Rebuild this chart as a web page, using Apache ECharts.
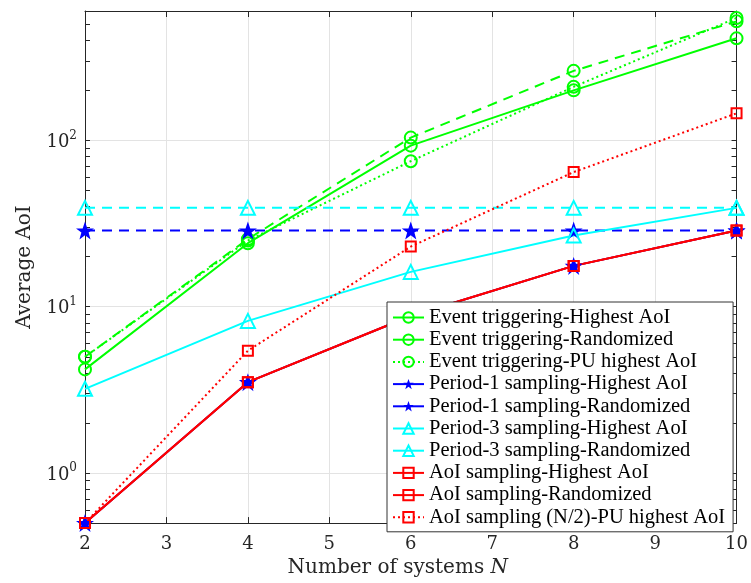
<!DOCTYPE html>
<html>
<head>
<meta charset="utf-8">
<script src="https://cdn.jsdelivr.net/npm/echarts@6.0.0/dist/echarts.min.js"></script>
<style>
  html, body { margin: 0; padding: 0; background: #fff; }
  #main { width: 751px; height: 583px; }
</style>
</head>
<body>
<div id="main"></div>
<script>
// number of systems N
var xs = [2, 4, 6, 8, 10];

// average AoI
var eventHighest = [4.2, 24.1, 93, 200, 411];
var eventRandom = [5.0, 25.5, 104, 262, 520];
var eventPU = [5.0, 25, 75, 210, 545];
var period1Highest = [0.5, 3.52, 8.8, 17.6, 28.7];
var period1Random = [28.7, 28.7, 28.7, 28.7, 28.7];
var period3Highest = [3.21, 8.22, 16.2, 26.8, 39.3];
var period3Random = [39.3, 39.3, 39.3, 39.3, 39.3];
var aoiHighest = [0.5, 3.52, 8.8, 17.6, 28.7];
var aoiRandom = [0.5, 3.52, 8.8, 17.6, 28.7];
var aoiPU = [0.5, 5.44, 23, 64.5, 145.5];

var yMin = 0.5, yMax = 600;
var yLabelValues = [1, 10, 100];
var yTickValues = [];
[0.1, 1, 10, 100].forEach(function (d) {
  for (var k = 1; k < 10; k++) {
    var v = +(d * k).toPrecision(3);
    if (v >= yMin && v <= yMax) yTickValues.push(v);
  }
});

var serif = 'Liberation Serif';
var axisFont = 'DejaVu Serif';
var axisCol = '#262626';
var star = 'path://M50,0 L63,36 L100,36 L70,58 L81,95 L50,72 L19,95 L30,58 L0,36 L37,36 Z';
var dash = [10, 7];
var dot = [2, 3];

function mk(name, vals, color, type, symbol, size, filled) {
  return {
    name: name,
    type: 'line',
    data: xs.map(function (x, i) { return [x, vals[i]]; }),
    symbol: symbol,
    symbolSize: size,
    showAllSymbol: true,
    clip: false,
    lineStyle: { color: color, width: 2, type: type },
    itemStyle: { color: filled ? color : 'rgba(0,0,0,0)', borderColor: color, borderWidth: filled ? 0 : 2 },
    emphasis: { disabled: true }
  };
}

var series = [
  mk('Event triggering-Highest AoI', eventHighest, '#00ff00', 'solid', 'circle', 12, false),
  mk('Event triggering-Randomized', eventRandom, '#00ff00', dash, 'circle', 12, false),
  mk('Event triggering-PU highest AoI', eventPU, '#00ff00', dot, 'circle', 12, false),
  mk('Period-1 sampling-Highest AoI', period1Highest, '#0000ff', 'solid', star, 18, true),
  mk('Period-1 sampling-Randomized', period1Random, '#0000ff', dash, star, 18, true),
  mk('Period-3 sampling-Highest AoI', period3Highest, '#00ffff', 'solid', 'triangle', 14, false),
  mk('Period-3 sampling-Randomized', period3Random, '#00ffff', dash, 'triangle', 14, false),
  mk('AoI sampling-Highest AoI', aoiHighest, '#ff0000', 'solid', 'rect', 10, false),
  mk('AoI sampling-Randomized', aoiRandom, '#ff0000', 'solid', 'rect', 10, false),
  mk('AoI sampling (N/2)-PU highest AoI', aoiPU, '#ff0000', dot, 'rect', 10, false)
];

var legendData = series.map(function (s) {
  // the legend draws the randomized curves with a plain line
  if (s.name.indexOf('Randomized') >= 0) return { name: s.name, lineStyle: { type: 'solid' } };
  return { name: s.name };
});

var chart = echarts.init(document.getElementById('main'));
chart.setOption({
  animation: false,
  backgroundColor: '#fff',
  grid: { left: 85, right: 11, top: 11, bottom: 56 },
  legend: {
    data: legendData,
    orient: 'vertical',
    left: 387,
    top: 302,
    itemWidth: 31,
    itemHeight: 13,
    itemGap: 1.2,
    padding: [5, 8, 4, 5],
    backgroundColor: '#fff',
    borderColor: '#333',
    borderWidth: 1,
    selectedMode: false,
    textStyle: { fontFamily: serif, fontSize: 20.5, lineHeight: 16, color: '#000' }
  },
  xAxis: [
    {
      type: 'value', position: 'bottom', min: 2, max: 10, interval: 1,
      name: '{a|Number of systems }{i|N}',
      nameLocation: 'middle', nameGap: 34,
      nameTextStyle: {
        padding: [0, 26, 0, 0],
        rich: {
          a: { fontFamily: axisFont, fontSize: 20, color: axisCol },
          i: { fontFamily: axisFont, fontSize: 20, fontStyle: 'italic', color: axisCol }
        }
      },
      axisLine: { lineStyle: { color: axisCol, width: 1 } },
      axisTick: { inside: true, length: 6, lineStyle: { color: axisCol } },
      axisLabel: { margin: 12, fontFamily: axisFont, fontSize: 18, color: axisCol },
      splitLine: { show: true, lineStyle: { color: '#e3e3e3', width: 1 } }
    },
    {
      type: 'value', position: 'top', min: 2, max: 10, interval: 1,
      axisLine: { lineStyle: { color: axisCol, width: 1 } },
      axisTick: { inside: true, length: 6, lineStyle: { color: axisCol } },
      axisLabel: { show: false },
      splitLine: { show: false }
    }
  ],
  yAxis: [
    {
      type: 'log', logBase: 10, position: 'left', min: yMin, max: yMax,
      name: 'Average AoI',
      nameLocation: 'middle', nameGap: 50,
      nameTextStyle: { fontFamily: axisFont, fontSize: 20, color: axisCol },
      axisLine: { show: true, lineStyle: { color: axisCol, width: 1 } },
      axisTick: { show: false },
      axisLabel: {
        customValues: yLabelValues,
        margin: 8,
        formatter: function (v) {
          var e = Math.round(Math.log10(v));
          if (Math.abs(Math.log10(v) - e) > 1e-6) return '';
          return '{b|10}{s|' + e + '}';
        },
        rich: {
          b: { fontFamily: axisFont, fontSize: 18, color: axisCol, verticalAlign: 'bottom' },
          s: { fontFamily: axisFont, fontSize: 12, color: axisCol, verticalAlign: 'top', padding: [0, 0, 10, 0] }
        }
      },
      splitLine: { show: true, lineStyle: { color: '#e3e3e3', width: 1 } }
    },
    {
      type: 'log', logBase: 10, position: 'left', min: yMin, max: yMax,
      axisLine: { show: false },
      axisTick: { show: true, inside: true, length: 5, customValues: yTickValues, lineStyle: { color: axisCol } },
      axisLabel: { show: false },
      splitLine: { show: false }
    },
    {
      type: 'log', logBase: 10, position: 'right', min: yMin, max: yMax,
      axisLine: { show: true, lineStyle: { color: axisCol, width: 1 } },
      axisTick: { show: true, inside: true, length: 5, customValues: yTickValues, lineStyle: { color: axisCol } },
      axisLabel: { show: false },
      splitLine: { show: false }
    }
  ],
  series: series
});
</script>
</body>
</html>
